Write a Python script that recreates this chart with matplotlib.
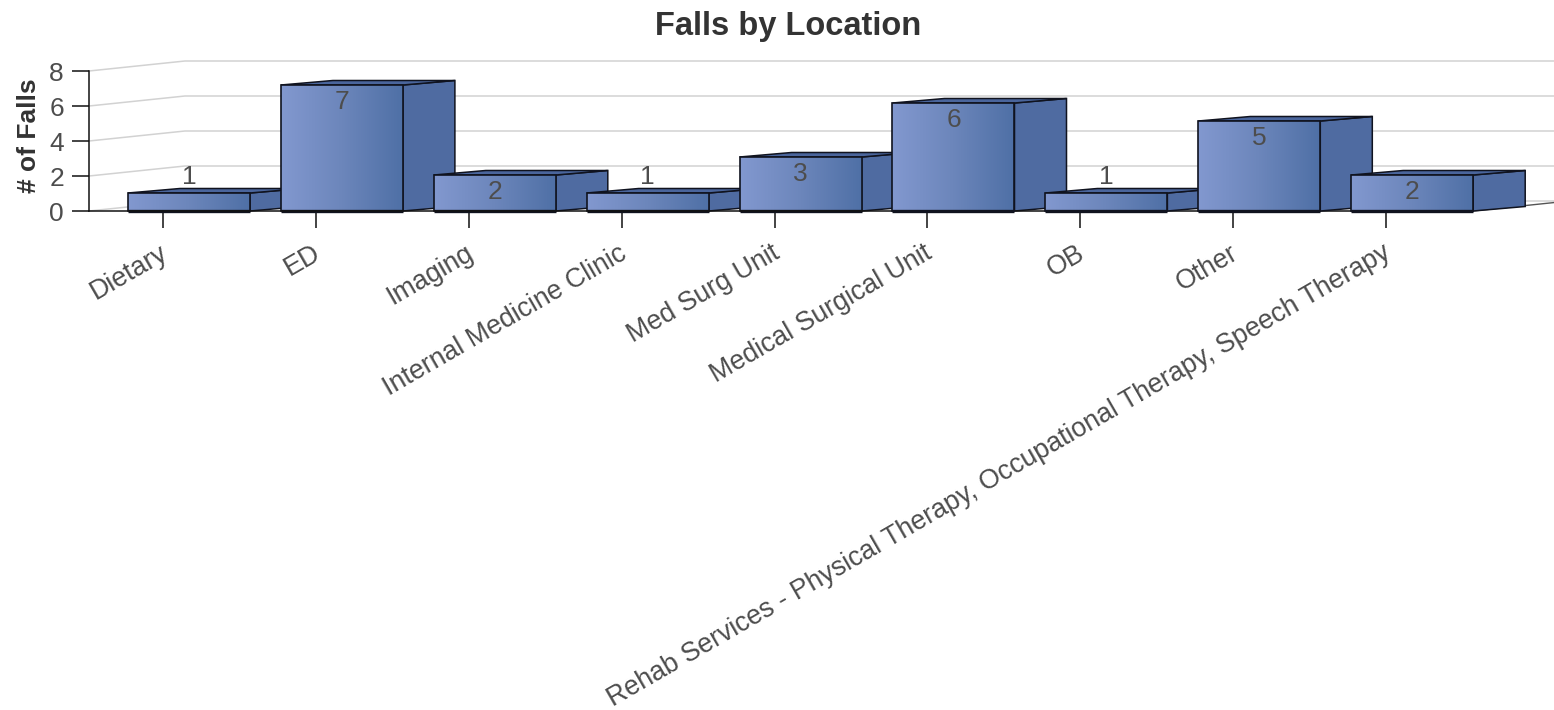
import numpy as np
import matplotlib
matplotlib.use("Agg")
import matplotlib.pyplot as plt
from matplotlib.colors import LinearSegmentedColormap
from matplotlib.patches import Polygon
from matplotlib.transforms import ScaledTranslation

plt.rcParams['font.family'] = ['Liberation Sans', 'DejaVu Sans']

locations = ['Dietary', 'ED', 'Imaging', 'Internal Medicine Clinic', 'Med Surg Unit',
             'Medical Surgical Unit', 'OB', 'Other',
             'Rehab Services - Physical Therapy, Occupational Therapy, Speech Therapy']
falls = [1, 7, 2, 1, 3, 6, 1, 5, 2]
y_ticks = [0, 2, 4, 6, 8]

W, H = 1554, 710
# pixel geometry of the fake 3d box
left, base, right = 89, 211, 1554
tick0, band = 163, 152.9
unit = 17.5
px = 1 / band       # one pixel in category units
py = 1 / unit       # one pixel in value units
bar_scale = 18 / 17.5   # bars rise a bit faster than the wall ticks in the original

fig = plt.figure(figsize=(W / 100, H / 100), dpi=100, facecolor='white')
ax = fig.add_axes([left / W, (H - base) / H, (right - left) / W, 8 * unit / H])
ax.set_xlim((left - tick0) * px, (right - tick0) * px)
ax.set_ylim(0, 8)

text_col = '#4d4d4d'
edge = '#10131f'
side_col = '#4f6ba1'
top_col = '#4a659c'
grad = LinearSegmentedColormap.from_list('bar', ['#8298cf', '#6c86bb', '#4f70a6'])
ramp = np.linspace(0, 1, 128).reshape(1, -1)

# wall and floor lines
for t in y_ticks:
    ax.plot([(left - tick0) * px, (left + 96 - tick0) * px, (right - tick0) * px],
            [t, t + 10 * py, t + 10 * py],
            color='#d2d2d2', lw=1.1, clip_on=False, zorder=1)
floor_x = (1473 - tick0) * px
ax.plot([floor_x, floor_x + 96 * px], [0, 10 * py], color='#555555', lw=1.0, zorder=1.5, clip_on=False)

bar_w = 122 * px
depth_x = 52 * px
depth_y = 4.5 * py
shift = 26 * px

for i, v in enumerate(falls):
    x0 = i + shift - bar_w / 2
    x1 = x0 + bar_w
    h = v * bar_scale
    z = 2 + i * 0.1
    ax.add_patch(Polygon([(x1, 0), (x1 + depth_x, depth_y), (x1 + depth_x, h + depth_y), (x1, h)],
                         fc=side_col, ec=edge, lw=1.1, zorder=z, clip_on=False))
    ax.add_patch(Polygon([(x0, h), (x1, h), (x1 + depth_x, h + depth_y), (x0 + depth_x, h + depth_y)],
                         fc=top_col, ec=edge, lw=1.1, zorder=z, clip_on=False))
    ax.imshow(ramp, extent=[x0, x1, 0, h], cmap=grad, aspect='auto', zorder=z + 0.01, clip_on=False)
    ax.add_patch(Polygon([(x0, 0), (x1, 0), (x1, h), (x0, h)],
                         fc='none', ec=edge, lw=1.2, zorder=z + 0.02, clip_on=False))
    ax.plot([x0, x1], [0, 0], color=edge, lw=2.4, zorder=z + 0.03, solid_capstyle='butt', clip_on=False)
    # the 1s do not fit inside, they sit above the bar
    label_y = h + 16 * py if v < 2 else h - 17 * py
    ax.text(i + shift, label_y, str(v), ha='center', va='center', fontsize=19,
            color=text_col, zorder=5)

ax.set_xlim((left - tick0) * px, (right - tick0) * px)
ax.set_ylim(0, 8)

for s in ['top', 'right']:
    ax.spines[s].set_visible(False)
ax.patch.set_visible(False)
ax.spines['left'].set_linewidth(1.1)
ax.spines['left'].set_color('#111111')
ax.spines['bottom'].set_linewidth(1.1)
ax.spines['bottom'].set_color('#111111')
ax.spines['bottom'].set_bounds((left - tick0) * px, floor_x)

ax.set_yticks(y_ticks)
ax.set_xticks(range(len(locations)))
ax.set_xticklabels(locations, rotation=30, ha='right', rotation_mode='anchor')
ax.tick_params(axis='y', length=12, width=1.1, color='#111111', labelsize=19, labelcolor=text_col, pad=6)
ax.tick_params(axis='x', length=12, width=1.1, color='#111111', labelsize=19.3, labelcolor=text_col, pad=9)
nudge = ScaledTranslation(-4 / 100, 0, fig.dpi_scale_trans)
for lab in ax.get_xticklabels():
    lab.set_transform(lab.get_transform() + nudge)

fig.text(29 / W, 1 - 136 / H, '# of Falls', rotation=90, ha='center', va='center',
         fontsize=19, fontweight='bold', color='#333333')
fig.text(788 / W, 1 - 26 / H, 'Falls by Location', ha='center', va='center',
         fontsize=23.5, fontweight='bold', color='#333333')

fig.savefig('out.png', dpi=100)
